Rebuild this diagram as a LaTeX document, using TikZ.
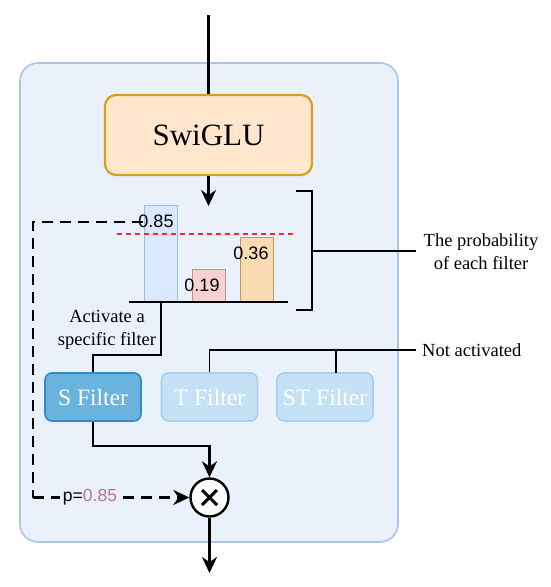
\documentclass[tikz,border=0pt]{standalone}
\usepackage{fontspec}
\setmainfont{Liberation Serif}
\newfontfamily\arialf{Liberation Sans}
\usetikzlibrary{arrows.meta,calc}
\definecolor{panelfill}{RGB}{234,241,251}
\definecolor{paneldraw}{RGB}{172,197,228}
\definecolor{swifill}{RGB}{255,230,204}
\definecolor{swidraw}{RGB}{215,160,30}
\definecolor{sfill}{RGB}{104,180,222}
\definecolor{sdraw}{RGB}{58,138,190}
\definecolor{tfill}{RGB}{196,225,245}
\definecolor{tdraw}{RGB}{170,208,236}
\definecolor{bluebar}{RGB}{218,232,252}
\definecolor{bluebard}{RGB}{160,190,228}
\definecolor{pinkbar}{RGB}{248,210,208}
\definecolor{pinkbard}{RGB}{205,140,140}
\definecolor{orangebar}{RGB}{250,218,178}
\definecolor{orangebard}{RGB}{200,150,90}
\definecolor{probpurple}{RGB}{181,115,157}
\tikzset{
  flow/.style={line width=2.4pt,-{Stealth[length=16pt,width=15pt]}},
  plain/.style={line width=2.4pt},
  thin/.style={line width=1.5pt},
  dashflow/.style={line width=2.4pt,dash pattern=on 11pt off 7pt},
  filterbox/.style={rounded corners=7pt,line width=1.6pt,minimum width=96pt,minimum height=48pt,text=white,font=\fontsize{23.5}{28}\selectfont},
  barbox/.style={line width=1.4pt,minimum width=33pt,anchor=south west,inner sep=0pt},
  numlbl/.style={font=\arialf\fontsize{18}{21}\selectfont,inner sep=0pt},
  sidelbl/.style={font=\fontsize{18.5}{23}\selectfont,align=center,inner sep=0pt}
}
\begin{document}
\begin{tikzpicture}[x=1pt,y=-1pt]
\useasboundingbox (0,0) rectangle (550,587);
% panel
\draw[fill=panelfill,draw=paneldraw,line width=1.6pt,rounded corners=18pt] (20,63) rectangle (398,542);
% SwiGLU
\node[draw=swidraw,fill=swifill,line width=2.2pt,rounded corners=11pt,minimum width=207pt,minimum height=80pt,font=\fontsize{31}{36}\selectfont] (swi) at (208.5,135) {SwiGLU};
\coordinate (top) at (208.5,15);
\draw[plain] (top) -- (swi.north);
\coordinate (arrtip) at (208.5,206);
\draw[flow] (swi.south) -- (arrtip);
% bars
\node[barbox,draw=bluebard,fill=bluebar,minimum height=96pt] (b1) at (144,302) {};
\node[barbox,draw=pinkbard,fill=pinkbar,minimum height=32pt] (b2) at (192,302) {};
\node[barbox,draw=orangebard,fill=orangebar,minimum height=64pt] (b3) at (240,302) {};
\coordinate (baseL) at (129,302);
\coordinate (baseR) at (288,302);
\draw[line width=2.2pt] (baseL) -- (baseR);
\coordinate (thrL) at (117,234);
\coordinate (thrR) at (295,234);
\draw[red!85!white,line width=1.5pt,dash pattern=on 5pt off 4pt] (thrL) -- (thrR);
\node[numlbl] (n1) at (156,221) {0.85};
\node[numlbl] (n2) at (202,285) {0.19};
\node[numlbl] (n3) at (251,253) {0.36};
% bracket
\coordinate (brT) at (296,191);
\coordinate (brB) at (296,310);
\coordinate (brM) at (312,251);
\draw[thin] (brT) -| (312,310) -- (brB);
\node[sidelbl] (prob) at (481,252) {The probability\\of each filter};
\coordinate (probL) at (416,251);
\draw[thin] (brM) -- (probL);
% filters
\node[filterbox,draw=sdraw,fill=sfill] (sf) at (93,397) {S Filter};
\node[filterbox,draw=tdraw,fill=tfill] (tf) at (209.5,397) {T Filter};
\node[filterbox,draw=tdraw,fill=tfill] (stf) at (325,397) {ST Filter};
% activate path
\coordinate (basemid) at (161,302);
\draw[plain] (basemid) -- (161,355) -| (sf.north);
\node[sidelbl,align=center] (act) at (107,330) {Activate a\\specific filter};
% not activated
\node[sidelbl,anchor=west] (nact) at (422,350) {Not activated};
\coordinate (naR) at (416,350);
\draw[thin] (tf.north) -- (tf.north |- naR) -- (naR);
\coordinate (stTop) at (336,373);
\draw[thin] (stTop) -- (stTop |- naR);
% multiply
\node[circle,draw,line width=2.4pt,fill=white,minimum size=38pt,inner sep=0pt] (mul) at (209.5,497.5) {};
\draw[line width=3pt] ($(mul.center)+(-7.5,-7.5)$) -- ($(mul.center)+(7.5,7.5)$);
\draw[line width=3pt] ($(mul.center)+(-7.5,7.5)$) -- ($(mul.center)+(7.5,-7.5)$);
\draw[flow] (sf.south) -- (93,446) -| (mul.north);
\coordinate (out) at (209.5,573);
\draw[flow] (mul.south) -- (out);
% dashed prob path
\coordinate (dstart) at (143,222);
\coordinate (dcorner) at (33,497.5);
\draw[dashflow] (dstart) -| (dcorner);
\draw[dashflow,-{Stealth[length=16pt,width=15pt]}] (dcorner) -- (mul.west);
\node[fill=panelfill,font=\arialf\fontsize{17.5}{21}\selectfont,inner sep=3pt] (plbl) at (90,497.5) {p=\textcolor{probpurple}{0.85}};
\end{tikzpicture}
\end{document}
